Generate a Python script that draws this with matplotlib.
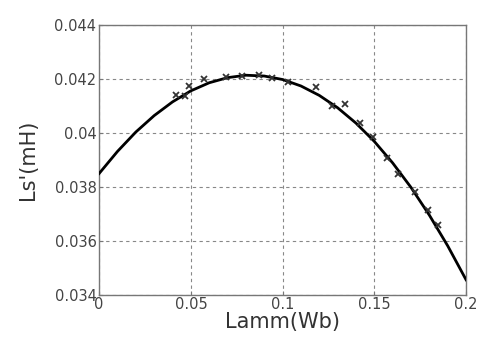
import matplotlib
matplotlib.use("Agg")
import matplotlib.pyplot as plt

# fitted curve
curve_x = [0.00, 0.01, 0.02, 0.03, 0.04, 0.05, 0.06, 0.07, 0.08, 0.09, 0.10,
           0.11, 0.12, 0.13, 0.14, 0.15, 0.16, 0.17, 0.18, 0.19, 0.20]
curve_y = [0.03850, 0.03932, 0.04004, 0.04065, 0.04116, 0.04157, 0.04187,
           0.04206, 0.04215, 0.04212, 0.04199, 0.04175, 0.04140, 0.04094,
           0.04037, 0.03969, 0.03889, 0.03798, 0.03695, 0.03581, 0.03455]

# measured points
pts_x = [0.042, 0.047, 0.049, 0.057, 0.069, 0.078, 0.087, 0.094, 0.103,
         0.118, 0.127, 0.134, 0.142, 0.1495, 0.157, 0.163, 0.172, 0.1795, 0.1845]
pts_y = [0.04142, 0.04138, 0.04175, 0.04201, 0.04208, 0.04212, 0.04216, 0.04205,
         0.04190, 0.04171, 0.04100, 0.04108, 0.04037, 0.03985, 0.03907, 0.03848,
         0.03781, 0.03714, 0.03658]

xticks = [0, 0.05, 0.1, 0.15, 0.2]
xtick_labels = ["0", "0.05", "0.1", "0.15", "0.2"]
yticks = [0.034, 0.036, 0.038, 0.04, 0.042, 0.044]
ytick_labels = ["0.034", "0.036", "0.038", "0.04", "0.042", "0.044"]

plt.rcParams['font.family'] = ['DejaVu Sans']

fig = plt.figure(figsize=(4.79, 3.39), dpi=100)
ax = fig.add_axes([0.207, 0.131, 0.766, 0.794])

ax.plot(curve_x, curve_y, color='black', lw=2.0, zorder=3)
ax.plot(pts_x, pts_y, linestyle='none', marker='x', markersize=4,
        markeredgewidth=1.3, color='#333333', zorder=4)

ax.set_xlim(0, 0.2)
ax.set_ylim(0.034, 0.044)
ax.set_xticks(xticks)
ax.set_xticklabels(xtick_labels)
ax.set_yticks(yticks)
ax.set_yticklabels(ytick_labels)

ax.grid(True, color='#888888', linestyle=(0, (3, 3)), linewidth=0.8)
ax.set_axisbelow(True)
for s in ax.spines.values():
    s.set_color('#777777')
    s.set_linewidth(1.0)
ax.tick_params(direction='in', length=3, color='#777777', labelsize=10.5,
               labelcolor='#444444', pad=2)

ax.set_xlabel("Lamm(Wb)", fontsize=15, color='#333333', labelpad=0)
ax.set_ylabel("Ls'(mH)", fontsize=15, color='#333333', labelpad=12)

fig.savefig("out.png", dpi=100)
